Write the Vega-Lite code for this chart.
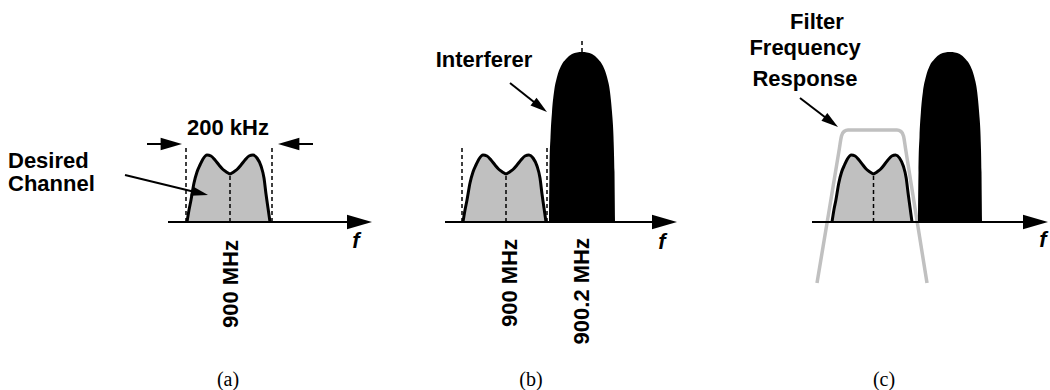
{
  "$schema": "https://vega.github.io/schema/vega-lite/v6.json",
  "width": 1050,
  "height": 390,
  "autosize": {"type": "none"},
  "padding": 0,
  "background": "#ffffff",
  "config": {"view": {"stroke": null}},
  "datasets": {
    "filter": [
      {"x": 817, "a": -61}, {"x": 829.2, "a": 12}, {"x": 839.3, "a": 73}, {"x": 841.5, "a": 86},
      {"x": 844, "a": 90.5}, {"x": 848, "a": 92}, {"x": 872, "a": 92}, {"x": 897, "a": 92},
      {"x": 901, "a": 90.5}, {"x": 903.5, "a": 86}, {"x": 905.6, "a": 73}, {"x": 915.3, "a": 12}, {"x": 927, "a": -61}
    ],
    "channel": [
      {"panel": "a", "x": 187, "a": 0}, {"panel": "a", "x": 189, "a": 12}, {"panel": "a", "x": 191, "a": 22},
      {"panel": "a", "x": 194, "a": 39}, {"panel": "a", "x": 197, "a": 50}, {"panel": "a", "x": 200, "a": 57},
      {"panel": "a", "x": 203, "a": 63}, {"panel": "a", "x": 207, "a": 67}, {"panel": "a", "x": 211, "a": 66},
      {"panel": "a", "x": 215, "a": 62}, {"panel": "a", "x": 219, "a": 57}, {"panel": "a", "x": 223, "a": 52.5},
      {"panel": "a", "x": 226, "a": 50.3}, {"panel": "a", "x": 228.5, "a": 48.8}, {"panel": "a", "x": 230, "a": 48},
      {"panel": "a", "x": 231.5, "a": 48.8}, {"panel": "a", "x": 234, "a": 50.3}, {"panel": "a", "x": 237, "a": 52.5},
      {"panel": "a", "x": 241, "a": 57}, {"panel": "a", "x": 245, "a": 62}, {"panel": "a", "x": 249, "a": 66},
      {"panel": "a", "x": 253, "a": 67}, {"panel": "a", "x": 257, "a": 64}, {"panel": "a", "x": 261, "a": 56},
      {"panel": "a", "x": 264, "a": 44}, {"panel": "a", "x": 266, "a": 28}, {"panel": "a", "x": 268, "a": 14},
      {"panel": "a", "x": 270, "a": 0},
      {"panel": "b", "x": 463, "a": 0}, {"panel": "b", "x": 465, "a": 12}, {"panel": "b", "x": 467, "a": 22},
      {"panel": "b", "x": 470, "a": 39}, {"panel": "b", "x": 473, "a": 50}, {"panel": "b", "x": 476, "a": 57},
      {"panel": "b", "x": 479, "a": 63}, {"panel": "b", "x": 483, "a": 67}, {"panel": "b", "x": 487, "a": 66},
      {"panel": "b", "x": 491, "a": 62}, {"panel": "b", "x": 495, "a": 57}, {"panel": "b", "x": 499, "a": 52.5},
      {"panel": "b", "x": 502, "a": 50.3}, {"panel": "b", "x": 504.5, "a": 48.8}, {"panel": "b", "x": 506, "a": 48},
      {"panel": "b", "x": 507.5, "a": 48.8}, {"panel": "b", "x": 510, "a": 50.3}, {"panel": "b", "x": 513, "a": 52.5},
      {"panel": "b", "x": 517, "a": 57}, {"panel": "b", "x": 521, "a": 62}, {"panel": "b", "x": 525, "a": 66},
      {"panel": "b", "x": 529, "a": 67}, {"panel": "b", "x": 533, "a": 64}, {"panel": "b", "x": 537, "a": 56},
      {"panel": "b", "x": 540, "a": 44}, {"panel": "b", "x": 542, "a": 28}, {"panel": "b", "x": 544, "a": 14},
      {"panel": "b", "x": 546, "a": 0},
      {"panel": "c", "x": 832, "a": 0}, {"panel": "c", "x": 833.9, "a": 12}, {"panel": "c", "x": 835.9, "a": 22},
      {"panel": "c", "x": 838.8, "a": 39}, {"panel": "c", "x": 841.6, "a": 50}, {"panel": "c", "x": 844.5, "a": 57},
      {"panel": "c", "x": 847.4, "a": 63}, {"panel": "c", "x": 851.3, "a": 67}, {"panel": "c", "x": 855.1, "a": 66},
      {"panel": "c", "x": 859, "a": 62}, {"panel": "c", "x": 862.9, "a": 57}, {"panel": "c", "x": 866.7, "a": 52.5},
      {"panel": "c", "x": 869.6, "a": 50.3}, {"panel": "c", "x": 872, "a": 48.8}, {"panel": "c", "x": 873.5, "a": 48},
      {"panel": "c", "x": 874.9, "a": 48.8}, {"panel": "c", "x": 877.3, "a": 50.3}, {"panel": "c", "x": 880.2, "a": 52.5},
      {"panel": "c", "x": 884.1, "a": 57}, {"panel": "c", "x": 887.9, "a": 62}, {"panel": "c", "x": 891.8, "a": 66},
      {"panel": "c", "x": 895.6, "a": 67}, {"panel": "c", "x": 899.5, "a": 64}, {"panel": "c", "x": 903.3, "a": 56},
      {"panel": "c", "x": 906.2, "a": 44}, {"panel": "c", "x": 908.2, "a": 28}, {"panel": "c", "x": 910.1, "a": 14},
      {"panel": "c", "x": 912, "a": 0}
    ],
    "interferer": [
      {"panel": "b", "x": 549, "a": 0}, {"panel": "b", "x": 549.5, "a": 50}, {"panel": "b", "x": 550.5, "a": 85},
      {"panel": "b", "x": 552, "a": 110}, {"panel": "b", "x": 554, "a": 130}, {"panel": "b", "x": 557, "a": 145},
      {"panel": "b", "x": 561, "a": 156}, {"panel": "b", "x": 566, "a": 163}, {"panel": "b", "x": 572, "a": 168},
      {"panel": "b", "x": 577, "a": 169.6}, {"panel": "b", "x": 582, "a": 170}, {"panel": "b", "x": 587, "a": 169.6},
      {"panel": "b", "x": 592, "a": 168}, {"panel": "b", "x": 598, "a": 163}, {"panel": "b", "x": 603, "a": 156},
      {"panel": "b", "x": 607, "a": 145}, {"panel": "b", "x": 610, "a": 130}, {"panel": "b", "x": 612, "a": 110},
      {"panel": "b", "x": 613.5, "a": 85}, {"panel": "b", "x": 614.5, "a": 50}, {"panel": "b", "x": 615, "a": 0},
      {"panel": "c", "x": 918, "a": 0}, {"panel": "c", "x": 918.5, "a": 50}, {"panel": "c", "x": 919.5, "a": 85},
      {"panel": "c", "x": 920.9, "a": 110}, {"panel": "c", "x": 922.9, "a": 130}, {"panel": "c", "x": 925.8, "a": 145},
      {"panel": "c", "x": 929.6, "a": 156}, {"panel": "c", "x": 934.5, "a": 163}, {"panel": "c", "x": 940.3, "a": 168},
      {"panel": "c", "x": 945.2, "a": 169.6}, {"panel": "c", "x": 950, "a": 170}, {"panel": "c", "x": 954.9, "a": 169.6},
      {"panel": "c", "x": 959.7, "a": 168}, {"panel": "c", "x": 965.5, "a": 163}, {"panel": "c", "x": 970.4, "a": 156},
      {"panel": "c", "x": 974.3, "a": 145}, {"panel": "c", "x": 977.2, "a": 130}, {"panel": "c", "x": 979.1, "a": 110},
      {"panel": "c", "x": 980.6, "a": 85}, {"panel": "c", "x": 981.5, "a": 50}, {"panel": "c", "x": 982, "a": 0}
    ],
    "dashes": [
      {"x": 186, "a": 0, "a2": 77}, {"x": 272, "a": 0, "a2": 77}, {"x": 230, "a": 0, "a2": 48},
      {"x": 462, "a": 0, "a2": 77}, {"x": 547, "a": 0, "a2": 77}, {"x": 506, "a": 0, "a2": 48},
      {"x": 582, "a": 170, "a2": 184}, {"x": 873.5, "a": 0, "a2": 48}
    ],
    "axes": [
      {"x": 168, "x2": 366}, {"x": 445, "x2": 671}, {"x": 812, "x2": 1042}
    ],
    "shafts": [
      {"x": 147, "a": 78, "x2": 175, "a2": 78},
      {"x": 313, "a": 78, "x2": 285, "a2": 78},
      {"x": 125, "a": 47, "x2": 199, "a2": 29},
      {"x": 510, "a": 139, "x2": 539, "a2": 116},
      {"x": 800, "a": 124, "x2": 830, "a2": 101}
    ],
    "heads": [
      {"x": 372, "a": 0, "dir": 0, "kind": "axis"},
      {"x": 677, "a": 0, "dir": 0, "kind": "axis"},
      {"x": 1048, "a": 0, "dir": 0, "kind": "axis"},
      {"x": 182, "a": 78, "dir": 0, "kind": "dim"},
      {"x": 278, "a": 78, "dir": 180, "kind": "dim"},
      {"x": 208, "a": 27, "dir": 13.5, "kind": "note"},
      {"x": 547, "a": 110, "dir": 37.6, "kind": "note"},
      {"x": 838, "a": 95, "dir": 36.7, "kind": "note"}
    ],
    "labels": [
      {"text": "200 kHz", "x": 228, "a": 94},
      {"text": "Interferer", "x": 484, "a": 162},
      {"text": "Filter", "x": 817, "a": 200},
      {"text": "Frequency", "x": 805, "a": 174.5},
      {"text": "Response", "x": 805, "a": 143}
    ],
    "leftLabels": [
      {"text": "Desired", "x": 8, "a": 61},
      {"text": "Channel", "x": 8, "a": 38}
    ],
    "rotated": [
      {"text": "900 MHz", "x": 231, "a": -18},
      {"text": "900 MHz", "x": 510, "a": -17},
      {"text": "900.2 MHz", "x": 582, "a": -16}
    ],
    "fs": [
      {"text": "f", "x": 356, "a": -19},
      {"text": "f", "x": 662, "a": -20},
      {"text": "f", "x": 1043, "a": -18}
    ],
    "captions": [
      {"text": "(a)", "x": 228, "a": -158},
      {"text": "(b)", "x": 531, "a": -158},
      {"text": "(c)", "x": 884, "a": -158}
    ]
  },
  "layer": [
    {
      "data": {"name": "filter"},
      "mark": {"type": "line", "interpolate": "monotone", "stroke": "#c0c0c0", "strokeWidth": 3.5, "strokeCap": "butt", "strokeJoin": "round"},
      "encoding": {
        "x": {"field": "x", "type": "quantitative", "scale": {"domain": [0, 1050], "nice": false, "zero": false}, "axis": null},
        "y": {"field": "a", "type": "quantitative", "scale": {"domain": [-168, 222], "nice": false, "zero": false}, "axis": null}
      }
    },
    {
      "data": {"name": "channel"},
      "mark": {"type": "area", "orient": "vertical", "interpolate": "monotone", "fill": "#c0c0c0"},
      "encoding": {
        "x": {"field": "x", "type": "quantitative", "scale": {"domain": [0, 1050], "nice": false, "zero": false}, "axis": null},
        "y": {"field": "a", "type": "quantitative", "stack": null, "scale": {"domain": [-168, 222], "nice": false, "zero": false}, "axis": null},
        "y2": {"datum": 0},
        "detail": {"field": "panel", "type": "nominal"}
      }
    },
    {
      "data": {"name": "channel"},
      "mark": {"type": "line", "interpolate": "monotone", "stroke": "#000000", "strokeWidth": 3, "strokeJoin": "round"},
      "encoding": {
        "x": {"field": "x", "type": "quantitative", "scale": {"domain": [0, 1050], "nice": false, "zero": false}, "axis": null},
        "y": {"field": "a", "type": "quantitative", "scale": {"domain": [-168, 222], "nice": false, "zero": false}, "axis": null},
        "detail": {"field": "panel", "type": "nominal"}
      }
    },
    {
      "data": {"name": "interferer"},
      "mark": {"type": "area", "orient": "vertical", "interpolate": "monotone", "fill": "#000000"},
      "encoding": {
        "x": {"field": "x", "type": "quantitative", "scale": {"domain": [0, 1050], "nice": false, "zero": false}, "axis": null},
        "y": {"field": "a", "type": "quantitative", "stack": null, "scale": {"domain": [-168, 222], "nice": false, "zero": false}, "axis": null},
        "y2": {"datum": 0},
        "detail": {"field": "panel", "type": "nominal"}
      }
    },
    {
      "data": {"name": "dashes"},
      "mark": {"type": "rule", "color": "#000000", "strokeWidth": 1.5, "strokeDash": [4, 3]},
      "encoding": {
        "x": {"field": "x", "type": "quantitative", "scale": {"domain": [0, 1050], "nice": false, "zero": false}, "axis": null},
        "y": {"field": "a", "type": "quantitative", "scale": {"domain": [-168, 222], "nice": false, "zero": false}, "axis": null},
        "y2": {"field": "a2"}
      }
    },
    {
      "data": {"name": "axes"},
      "mark": {"type": "rule", "color": "#000000", "strokeWidth": 2},
      "encoding": {
        "x": {"field": "x", "type": "quantitative", "scale": {"domain": [0, 1050], "nice": false, "zero": false}, "axis": null},
        "x2": {"field": "x2"},
        "y": {"datum": 0, "type": "quantitative", "scale": {"domain": [-168, 222], "nice": false, "zero": false}, "axis": null}
      }
    },
    {
      "data": {"name": "shafts"},
      "mark": {"type": "rule", "color": "#000000", "strokeWidth": 2},
      "encoding": {
        "x": {"field": "x", "type": "quantitative", "scale": {"domain": [0, 1050], "nice": false, "zero": false}, "axis": null},
        "x2": {"field": "x2"},
        "y": {"field": "a", "type": "quantitative", "scale": {"domain": [-168, 222], "nice": false, "zero": false}, "axis": null},
        "y2": {"field": "a2"}
      }
    },
    {
      "data": {"name": "heads"},
      "mark": {"type": "point", "shape": "M 0 0 L -2 -0.58 L -2 0.58 Z", "filled": true, "fill": "#000000", "opacity": 1, "strokeWidth": 0},
      "encoding": {
        "x": {"field": "x", "type": "quantitative", "scale": {"domain": [0, 1050], "nice": false, "zero": false}, "axis": null},
        "y": {"field": "a", "type": "quantitative", "scale": {"domain": [-168, 222], "nice": false, "zero": false}, "axis": null},
        "angle": {"field": "dir", "type": "quantitative", "scale": null},
        "size": {"field": "kind", "type": "ordinal", "scale": {"domain": ["axis", "dim", "note"], "range": [625, 289, 484]}, "legend": null}
      }
    },
    {
      "data": {"name": "labels"},
      "mark": {"type": "text", "font": "Liberation Sans", "fontWeight": "bold", "fontSize": 22, "align": "center", "baseline": "middle", "color": "#000000"},
      "encoding": {
        "x": {"field": "x", "type": "quantitative", "scale": {"domain": [0, 1050], "nice": false, "zero": false}, "axis": null},
        "y": {"field": "a", "type": "quantitative", "scale": {"domain": [-168, 222], "nice": false, "zero": false}, "axis": null},
        "text": {"field": "text", "type": "nominal"}
      }
    },
    {
      "data": {"name": "leftLabels"},
      "mark": {"type": "text", "font": "Liberation Sans", "fontWeight": "bold", "fontSize": 22, "align": "left", "baseline": "middle", "color": "#000000"},
      "encoding": {
        "x": {"field": "x", "type": "quantitative", "scale": {"domain": [0, 1050], "nice": false, "zero": false}, "axis": null},
        "y": {"field": "a", "type": "quantitative", "scale": {"domain": [-168, 222], "nice": false, "zero": false}, "axis": null},
        "text": {"field": "text", "type": "nominal"}
      }
    },
    {
      "data": {"name": "rotated"},
      "mark": {"type": "text", "font": "Liberation Sans", "fontWeight": "bold", "fontSize": 22, "align": "right", "baseline": "middle", "angle": 270, "color": "#000000"},
      "encoding": {
        "x": {"field": "x", "type": "quantitative", "scale": {"domain": [0, 1050], "nice": false, "zero": false}, "axis": null},
        "y": {"field": "a", "type": "quantitative", "scale": {"domain": [-168, 222], "nice": false, "zero": false}, "axis": null},
        "text": {"field": "text", "type": "nominal"}
      }
    },
    {
      "data": {"name": "fs"},
      "mark": {"type": "text", "font": "Liberation Sans", "fontWeight": "bold", "fontStyle": "italic", "fontSize": 22, "align": "center", "baseline": "middle", "color": "#000000"},
      "encoding": {
        "x": {"field": "x", "type": "quantitative", "scale": {"domain": [0, 1050], "nice": false, "zero": false}, "axis": null},
        "y": {"field": "a", "type": "quantitative", "scale": {"domain": [-168, 222], "nice": false, "zero": false}, "axis": null},
        "text": {"field": "text", "type": "nominal"}
      }
    },
    {
      "data": {"name": "captions"},
      "mark": {"type": "text", "font": "Liberation Serif", "fontSize": 20, "align": "center", "baseline": "middle", "color": "#000000"},
      "encoding": {
        "x": {"field": "x", "type": "quantitative", "scale": {"domain": [0, 1050], "nice": false, "zero": false}, "axis": null},
        "y": {"field": "a", "type": "quantitative", "scale": {"domain": [-168, 222], "nice": false, "zero": false}, "axis": null},
        "text": {"field": "text", "type": "nominal"}
      }
    }
  ]
}
